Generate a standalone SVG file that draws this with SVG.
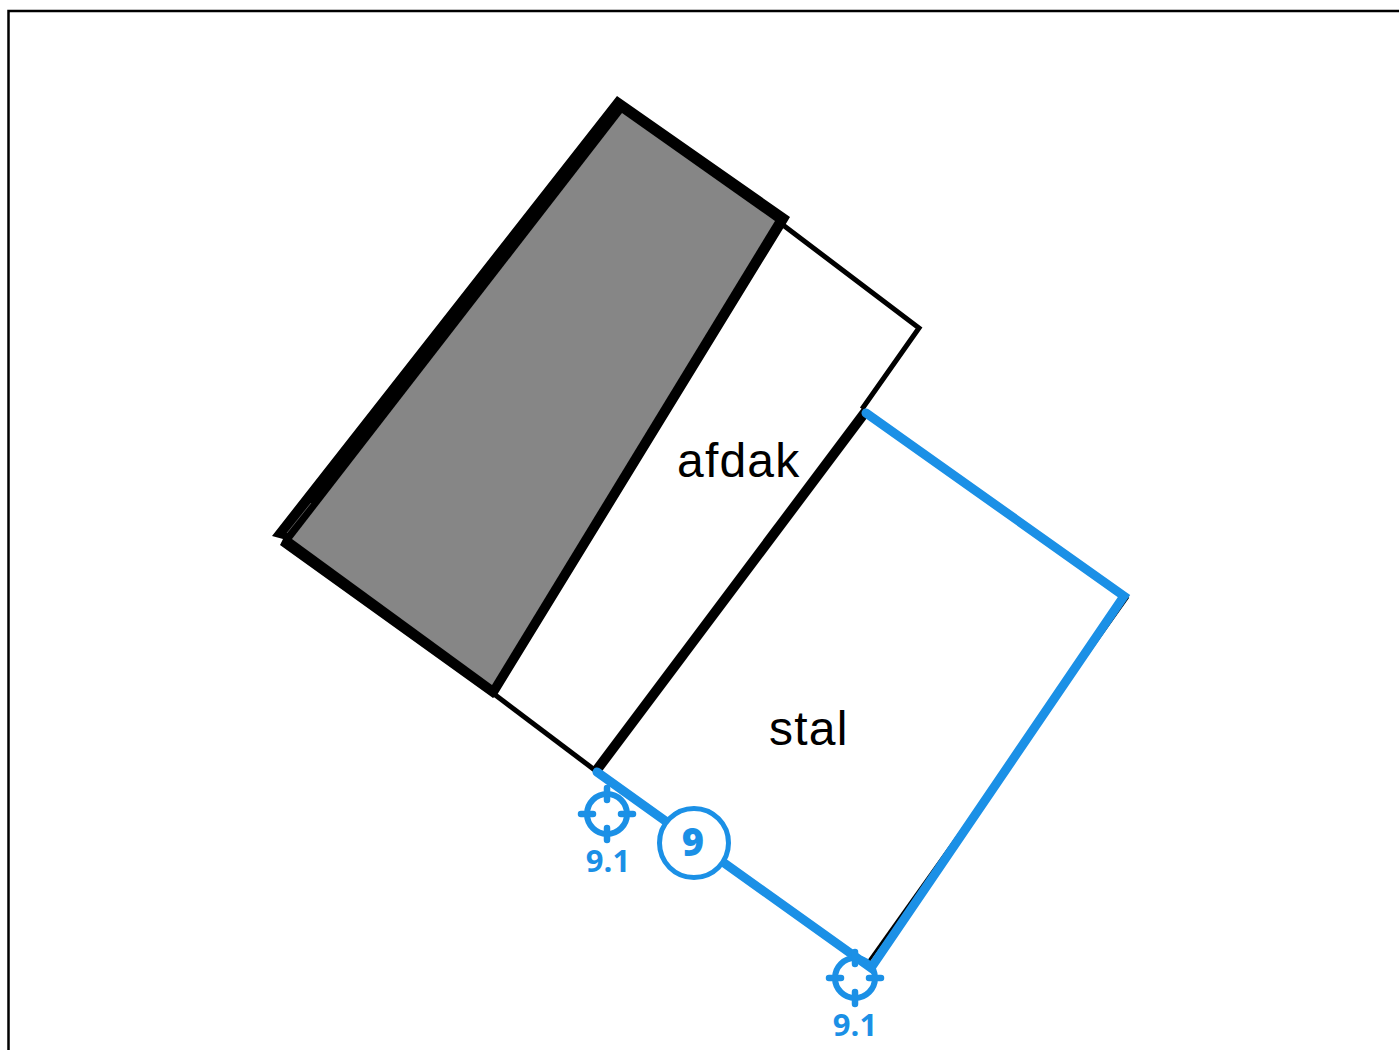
<svg xmlns="http://www.w3.org/2000/svg" width="1399" height="1050" viewBox="0 0 1399 1050">
<style>
.lbl{font-family:"Liberation Sans",Arial,sans-serif;font-size:48px;letter-spacing:1.200px;fill:#000}
.blue{fill:none;stroke:#1b90e6;stroke-linecap:round;stroke-linejoin:miter}
.num{font-family:"Open Sans","Noto Sans",sans-serif;font-weight:700;fill:#1b90e6;text-anchor:middle}
.thin{fill:none;stroke:#000;stroke-width:5;stroke-linejoin:miter}
.thick{fill:none;stroke:#000;stroke-linecap:butt}
</style>
<defs>
<g id="target">
<circle cx="0" cy="0" r="20" fill="none" stroke="#1b90e6" stroke-width="6"/>
<path d="M0-26V-14M0 14V26M-26 0H-14M14 0H26" fill="none" stroke="#1b90e6" stroke-width="6.500" stroke-linecap="round"/>
</g>
</defs>
<rect id="frame" x="8.500" y="11" width="1500" height="1200" fill="#fff" stroke="#000" stroke-width="2.500"/>
<g id="shed-dark">
<polygon points="617,96 790,217 784,227 497,695 493,698 280,545 283,539 272,536" fill="#000"/>
<polygon points="622,113 775,221 492,685 292,539" fill="#868686"/>
<path d="M287,533 L311,503" fill="none" stroke="#777" stroke-width="0.700"/>
</g>
<g id="connectors">
<path class="thin" d="M494,694 L596,771"/>
<path class="thin" d="M783,225 L919,328 L862,409"/>
<path class="thick" stroke-width="10" d="M866,411 L596,771"/>
<path fill="none" stroke="#000" stroke-width="3" d="M1128,597 L868,962"/>
</g>
<g id="blue-wall">
<path class="blue" stroke-width="9" d="M866,413 L1124,596 L871,968 L597,772"/>
</g>
<g id="afdak"><text class="lbl" x="677" y="477">afdak</text></g>
<g id="stal"><text class="lbl" x="769" y="745">stal</text></g>
<g id="marker-9">
<circle cx="694" cy="843" r="34.500" fill="#fff" stroke="#1b90e6" stroke-width="5"/>
<text class="num" x="693" y="856" font-size="38" style="font-weight:800">9</text>
</g>
<g id="point-a">
<use href="#target" x="607" y="814"/>
<text class="num" x="608" y="872" font-size="31">9.1</text>
</g>
<g id="point-b">
<use href="#target" x="855" y="978"/>
<text class="num" x="855" y="1036" font-size="31">9.1</text>
</g>
</svg>
